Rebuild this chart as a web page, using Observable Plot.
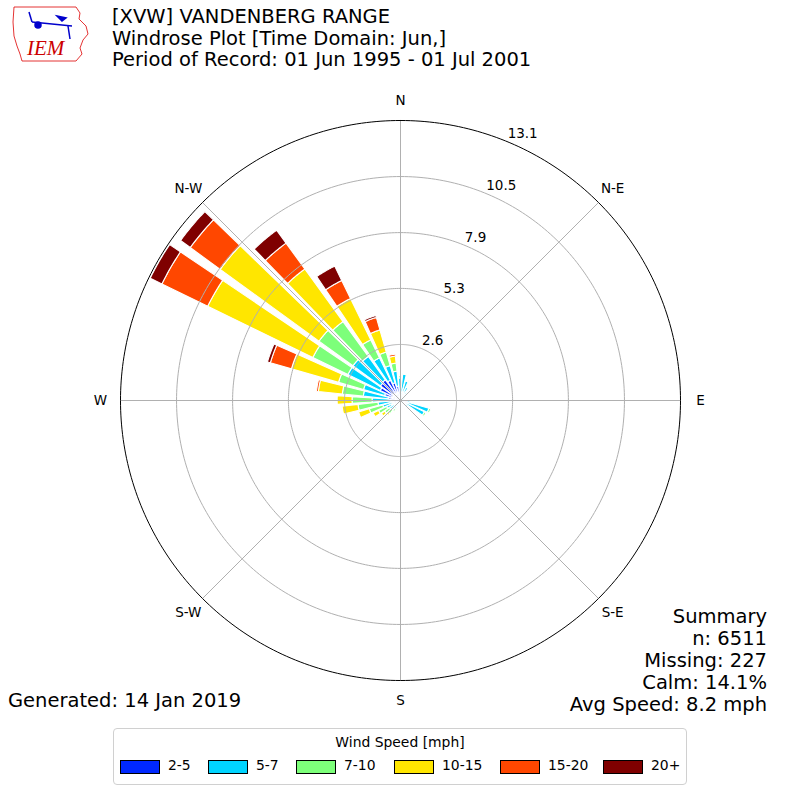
<!DOCTYPE html>
<html><head><meta charset="utf-8">
<script src="https://cdn.jsdelivr.net/npm/d3@7"></script>
<script src="https://cdn.jsdelivr.net/npm/@observablehq/plot@0.6"></script>
<style>
body{margin:0;background:#fff;font-family:"DejaVu Sans",sans-serif;}
#wrap{position:relative;width:800px;height:800px;overflow:hidden;background:#fff}
#chart{position:absolute;left:0;top:0}
.t{position:absolute;white-space:nowrap;color:#000}
#legend{position:absolute;left:113px;top:728px;width:572px;height:55px;border:1px solid #d0d0d0;border-radius:4px;font-size:13.9px}
#legend .lt{position:absolute;left:0;width:100%;top:5px;text-align:center}
#legend .sw{position:absolute;top:31px;width:38px;height:12px;border:1px solid #000}
#legend .lb{position:absolute;top:28px}
</style></head><body>
<div id="wrap">
<div id="chart"></div>
<svg class="t" style="left:12px;top:4px" width="80" height="62" viewBox="0 0 80 62">
  <path d="M2,3 L64,3 L68,9 L67,15 L74,22 L76,30 L71,36 L68,44 L70,50 L64,57 L10,57 L8,50 L5,42 L2,32 L1,18 Z" fill="none" stroke="#d00" stroke-width="0.8"/>
  <g stroke="#00c" fill="#00c" stroke-width="1.5">
    <line x1="17" y1="8" x2="20" y2="18"/><line x1="20" y1="18" x2="60" y2="22"/>
    <circle cx="26" cy="21" r="3"/><path d="M45,12 L54,14 L50,17 Z"/>
    <line x1="56" y1="22" x2="58" y2="35"/>
  </g>
  <text x="15" y="51" fill="#c00" font-family="Liberation Serif" font-style="italic" font-size="21">IEM</text>
</svg>
<div class="t" style="left:112px;top:6px;font-size:19.5px;line-height:21.5px">[XVW] VANDENBERG RANGE<br>Windrose Plot [Time Domain: Jun,]<br>Period of Record: 01 Jun 1995 - 01 Jul 2001</div>
<div class="t" style="right:33px;top:606px;font-size:19.5px;line-height:22px;text-align:right">Summary<br>n: 6511<br>Missing: 227<br>Calm: 14.1%<br>Avg Speed: 8.2 mph</div>
<div class="t" style="left:8px;top:690px;font-size:19.5px;line-height:22px">Generated: 14 Jan 2019</div>
<div id="legend"><div class="lt">Wind Speed [mph]</div></div>
</div>
<script>
// ---- data ----
const directions = [0,10,20,30,40,50,60,70,80,90,100,110,120,130,140,150,160,170,180,190,200,210,220,230,240,250,260,270,280,290,300,310,320,330,340,350];
const speedBins = ["2-5","5-7","7-10","10-15","15-20","20+"];
const binColors = ["#0028ff","#00d4ff","#7dff7a","#ffe600","#ff4700","#7f0000"];
const s2_5   = [0.38,0.33,0.23,0.19,0.14,0.14,0.09,0.09,0.09,0.09,0.14,0.38,0.33,0.14,0.09,0.09,0.09,0.09,0.09,0.09,0.14,0.14,0.19,0.19,0.23,0.28,0.38,0.47,0.56,0.75,1.03,1.13,1.17,1.03,0.84,0.66];
const s5_7   = [0.66,0.89,0.70,0.47,0.33,0.19,0.14,0.09,0.05,0.09,0.33,1.03,0.94,0.33,0.14,0.05,0.05,0.05,0.09,0.14,0.23,0.33,0.38,0.42,0.47,0.56,0.66,0.84,1.17,1.03,1.69,1.60,1.36,1.17,0.84,0.70];
const s7_10  = [0.09,0.05,0.05,0,0,0,0,0,0,0,0,0.09,0.09,0,0,0,0,0,0,0,0.09,0.14,0.23,0.28,0.42,0.66,0.94,0.94,0.99,1.22,1.83,1.97,2.02,0.94,0.66,0.38];
const s10_15 = [0,0,0,0,0,0,0,0,0,0,0,0,0,0,0,0,0,0,0,0,0,0.05,0.09,0.19,0.28,0.52,0.75,0.70,1.13,2.30,5.49,5.73,3.05,2.16,1.08,0.33];
const s15_20 = [0,0,0,0,0,0,0,0,0,0,0,0,0,0,0,0,0,0,0,0,0,0,0,0,0,0,0,0,0.09,1.03,2.39,1.74,1.50,0.94,0.61,0.09];
const s20p   = [0,0,0,0,0,0,0,0,0,0,0,0,0,0,0,0,0,0,0,0,0,0,0,0,0,0,0,0,0,0.14,0.61,0.56,0.75,0.75,0.09,0];
const series = [s2_5, s5_7, s7_10, s10_15, s15_20, s20p];
const ringTicks = [2.63, 5.26, 7.88, 10.51, 13.14];
const ringLabels = ["2.6","5.3","7.9","10.5","13.1"];
const compassAngles = [0,45,90,135,180,225,270,315];
const compassLabels = ["N","N-E","E","S-E","S","S-W","W","N-W"];

// ---- geometry helpers ----
const RMAX = 13.14;
const rad = a => a * Math.PI / 180;
const px = (r, a) => r * Math.sin(rad(a));
const py = (r, a) => r * Math.cos(rad(a));
const halfWidth = 4;

const segs = [];
directions.forEach((dir, i) => {
  let r0 = 0;
  series.forEach((arr, k) => {
    const v = arr[i];
    if (v > 0) segs.push({dir, bin: speedBins[k], r0, r1: r0 + v});
    r0 += v;
  });
});
const wedgePts = segs.flatMap((s, j) =>
  d3.range(-halfWidth, halfWidth + 0.001, 0.5).map(o => ({
    id: j, bin: s.bin,
    xo: px(s.r1, s.dir + o), yo: py(s.r1, s.dir + o),
    xi: px(s.r0, s.dir + o), yi: py(s.r0, s.dir + o)
  })));
const circlePts = ringTicks.flatMap((r, k) =>
  d3.range(0, 361, 1).map(a => ({k, x: px(r, a), y: py(r, a)})));
const gridPts = circlePts.filter(d => d.k < ringTicks.length - 1);
const outerPts = circlePts.filter(d => d.k === ringTicks.length - 1);

const chart = Plot.plot({
  width: 800, height: 800,
  marginTop: 120, marginBottom: 120, marginLeft: 120, marginRight: 120,
  x: {domain: [-RMAX, RMAX], axis: null},
  y: {domain: [-RMAX, RMAX], axis: null},
  color: {domain: speedBins, range: binColors},
  style: {fontFamily: "DejaVu Sans", fontSize: "13.5px", background: "white", overflow: "visible"},
  marks: [
    Plot.area(wedgePts, {x1: "xo", y1: "yo", x2: "xi", y2: "yi", z: "id", fill: "bin", stroke: "white", strokeWidth: 1.1}),
    Plot.line(gridPts, {x: "x", y: "y", z: "k", stroke: "#b0b0b0", strokeWidth: 1}),
    Plot.link(compassAngles, {x1: () => 0, y1: () => 0, x2: a => px(RMAX, a), y2: a => py(RMAX, a), stroke: "#b0b0b0", strokeWidth: 1}),
    Plot.line(outerPts, {x: "x", y: "y", stroke: "black", strokeWidth: 1}),
    Plot.text(ringTicks, {x: r => px(r, 22.5), y: r => py(r, 22.5), text: (d, i) => ringLabels[i], textAnchor: "start", dy: -8, fill: "black"}),
    Plot.text(compassAngles, {x: a => px(14.08, a), y: a => py(14.08, a), text: (d, i) => compassLabels[i], fill: "black"})
  ]
});
document.getElementById("chart").appendChild(chart);

// legend
const swX = [120, 208, 296, 394, 500, 603];
const legend = document.getElementById("legend");
speedBins.forEach((b, i) => {
  const sw = document.createElement("div");
  sw.className = "sw"; sw.style.left = (swX[i] - 114) + "px"; sw.style.background = binColors[i];
  legend.appendChild(sw);
  const lb = document.createElement("div");
  lb.className = "lb"; lb.style.left = (swX[i] - 114 + 48) + "px"; lb.textContent = b;
  legend.appendChild(lb);
});
</script>
</body></html>
